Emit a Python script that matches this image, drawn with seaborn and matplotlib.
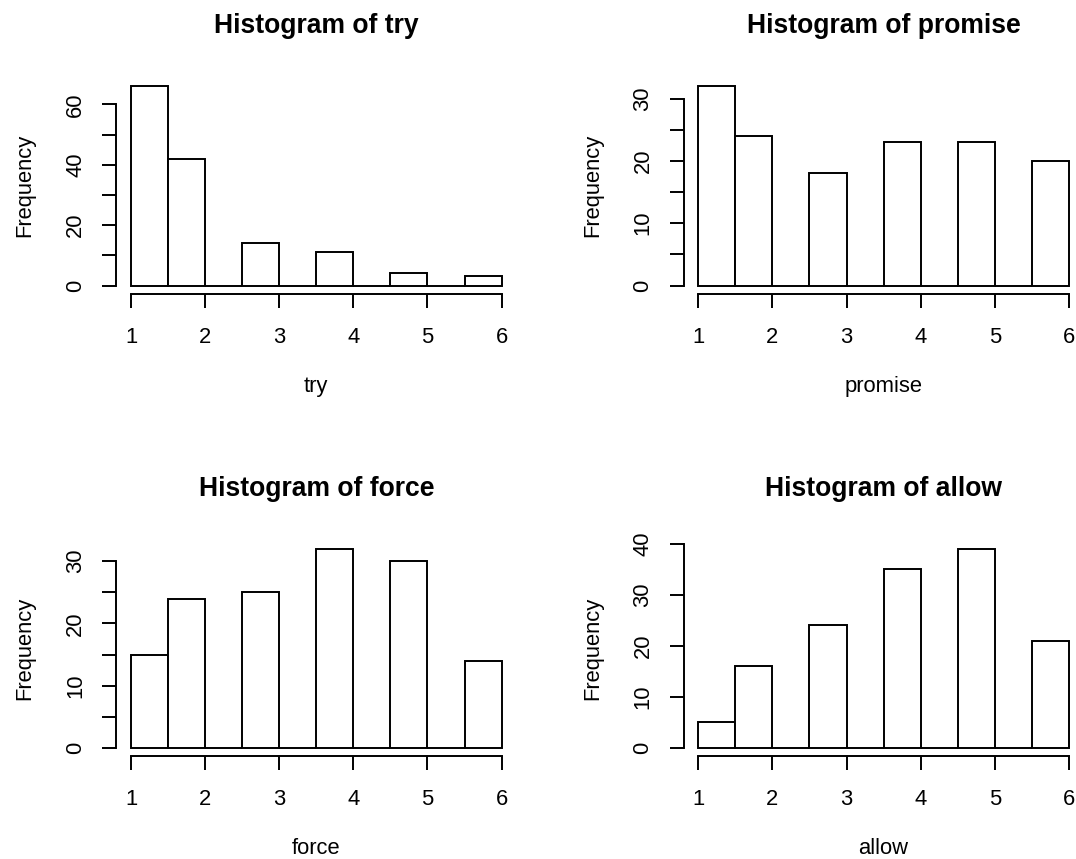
import numpy as np
import pandas as pd
import matplotlib
matplotlib.use("Agg")
import matplotlib.pyplot as plt
import seaborn as sns

# Data (counts per answer level)
levels = [1, 2, 3, 4, 5, 6]
breaks = [1.0, 1.5, 2.0, 2.5, 3.0, 3.5, 4.0, 4.5, 5.0, 5.5, 6.0]
try_counts = [66, 42, 14, 11, 4, 3]
promise_counts = [32, 24, 18, 23, 23, 20]
force_counts = [15, 24, 25, 32, 30, 14]
allow_counts = [5, 16, 24, 35, 39, 21]

variables = ["try", "promise", "force", "allow"]
counts = [try_counts, promise_counts, force_counts, allow_counts]

# y ticks and which of them R labelled
y_ticks = [
    [0, 10, 20, 30, 40, 50, 60],
    [0, 5, 10, 15, 20, 25, 30],
    [0, 5, 10, 15, 20, 25, 30],
    [0, 10, 20, 30, 40],
]
y_ticklabels = [
    ["0", "", "20", "", "40", "", "60"],
    ["0", "", "10", "", "20", "", "30"],
    ["0", "", "10", "", "20", "", "30"],
    ["0", "10", "20", "30", "40"],
]
x_ticks = [1, 2, 3, 4, 5, 6]

sns.set_style("ticks")
plt.rcParams["font.family"] = ["Liberation Sans", "DejaVu Sans"]
plt.rcParams["text.color"] = "black"
plt.rcParams["axes.labelcolor"] = "black"

fig = plt.figure(figsize=(10.76, 8.59), dpi=100)

W, H = 1076, 859
ax_w = 400.2 / W
ax_h = 215.3 / H
lefts = [116.2 / W, 683.5 / W]
bottoms = [(H - 293.5) / H, (H - 756.0) / H]

# R's hist uses right-closed bins, shift the inner edges a hair
bins = [breaks[0]] + [b + 1e-6 for b in breaks[1:]]

lw = 1.4
for i, (name, cnt) in enumerate(zip(variables, counts)):
    row, col = divmod(i, 2)
    ax = fig.add_axes([lefts[col], bottoms[row], ax_w, ax_h])
    df = pd.DataFrame({"value": levels, "n": cnt})
    sns.histplot(data=df, x="value", weights="n", bins=bins, ax=ax,
                 color="white", edgecolor="black", linewidth=lw, alpha=1)

    ymax = max(cnt)
    ax.set_xlim(0.8, 6.2)
    ax.set_ylim(-0.04 * ymax, 1.04 * ymax)

    for s in ["top", "right"]:
        ax.spines[s].set_visible(False)
    ax.spines["left"].set_bounds(0, y_ticks[i][-1])
    ax.spines["bottom"].set_bounds(1, 6)
    for s in ["left", "bottom"]:
        ax.spines[s].set_linewidth(lw)
        ax.spines[s].set_color("black")

    ax.set_xticks(x_ticks)
    ax.set_xticklabels([str(t) for t in x_ticks])
    ax.set_yticks(y_ticks[i])
    ax.set_yticklabels(y_ticklabels[i], rotation=90, va="center")
    ax.tick_params(axis="both", direction="out", length=9.8, width=lw,
                   color="black", labelsize=15.8, labelcolor="black")
    ax.tick_params(axis="x", pad=14)
    ax.tick_params(axis="y", pad=11.8)

    ax.set_title(f"Histogram of {name}", fontsize=19.1, fontweight="bold",
                 pad=32.3, color="black")
    ax.set_xlabel(name, fontsize=15.8)
    ax.set_ylabel("Frequency", fontsize=15.8)
    ax.xaxis.set_label_coords(0.5, -82.5 / 215.3)
    ax.yaxis.set_label_coords(-91.2 / 400.2, 0.5)
    ax.yaxis.label.set_va("center")
    ax.set_facecolor("white")

fig.savefig("out.png", dpi=100, facecolor="white")
